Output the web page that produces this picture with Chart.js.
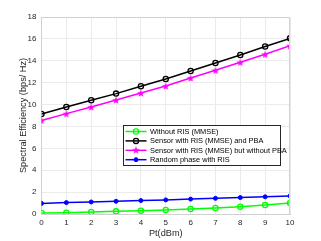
<!DOCTYPE html>
<html>
<head>
<meta charset="utf-8">
<script src="https://cdn.jsdelivr.net/npm/chart.js@4.4.1/dist/chart.umd.min.js"></script>
<style>
  html, body { margin: 0; padding: 0; background: #fff; }
  #wrap { width: 321px; height: 241px; }
</style>
</head>
<body>
<div id="wrap"><canvas id="myChart" width="321" height="241"></canvas></div>
<script>
/* data */
const ptLabels = [0, 1, 2, 3, 4, 5, 6, 7, 8, 9, 10];
const withoutRis = [0.1, 0.12, 0.18, 0.24, 0.3, 0.37, 0.46, 0.55, 0.67, 0.82, 1.0];
const sensorPba = [9.14, 9.78, 10.4, 11.0, 11.67, 12.34, 13.07, 13.8, 14.53, 15.3, 16.05];
const sensorNoPba = [8.55, 9.17, 9.78, 10.42, 11.06, 11.7, 12.43, 13.13, 13.86, 14.6, 15.38];
const randomPhase = [0.97, 1.04, 1.1, 1.16, 1.23, 1.29, 1.36, 1.43, 1.5, 1.57, 1.65];
const yTicks = [0, 2, 4, 6, 8, 10, 12, 14, 16, 18];

const seriesNames = [
  'Without RIS (MMSE)',
  'Sensor with RIS (MMSE) and PBA',
  'Sensor with RIS (MMSE) but without PBA',
  'Random phase with RIS'
];

/* filled pentagram marker like matlab */
function makeStar(size, color) {
  let c = document.createElement('canvas');
  c.width = size; c.height = size;
  let g = c.getContext('2d');
  let cx = size / 2, cy = size / 2, R = size / 2, r = R * 0.42;
  g.beginPath();
  for (let i = 0; i < 10; i++) {
    let a = -Math.PI / 2 + i * Math.PI / 5;
    let rr = i % 2 === 0 ? R : r;
    g.lineTo(cx + rr * Math.cos(a), cy + rr * Math.sin(a) + 0.5);
  }
  g.closePath();
  g.fillStyle = color;
  g.fill();
  return c;
}
const starImg = makeStar(8, '#ff00ff');

const fontFam = 'Helvetica, "Liberation Sans", Arial, sans-serif';

/* legend box inside plot */
const boxLegend = {
  id: 'boxLegend',
  afterDraw(chart) {
    const c = chart.ctx;
    const x0 = 123.5, y0 = 125.5, w = 157, h = 40;
    c.save();
    c.fillStyle = '#ffffff';
    c.fillRect(x0, y0, w, h);
    c.strokeStyle = '#262626';
    c.lineWidth = 1;
    c.strokeRect(x0, y0, w, h);
    c.font = '7.4px ' + fontFam;
    c.textBaseline = 'middle';
    const ds = chart.data.datasets;
    for (let i = 0; i < ds.length; i++) {
      const y = y0 + 6 + i * 9.4;
      c.strokeStyle = ds[i].borderColor;
      c.lineWidth = 1.5;
      c.beginPath();
      c.moveTo(x0 + 2, y);
      c.lineTo(x0 + 23, y);
      c.stroke();
      const mx = x0 + 12.5;
      if (ds[i].pointStyle === 'circle') {
        c.beginPath();
        c.arc(mx, y, ds[i].pointRadius, 0, Math.PI * 2);
        c.fillStyle = ds[i].pointBackgroundColor;
        c.fill();
        c.lineWidth = ds[i].pointBorderWidth;
        c.strokeStyle = ds[i].pointBorderColor;
        c.stroke();
      } else {
        c.drawImage(starImg, mx - 4, y - 4.5);
      }
      c.fillStyle = '#000';
      c.fillText(ds[i].label, x0 + 26.5, y + 0.5);
    }
    c.restore();
  }
};

let ctx = document.querySelector('#myChart').getContext('2d');
let myChart = new Chart(ctx, {
  type: 'line',
  data: {
    labels: ptLabels,
    datasets: [
      {
        label: seriesNames[0],
        data: withoutRis,
        borderColor: '#00ff00',
        borderWidth: 1.5,
        pointStyle: 'circle',
        pointRadius: 2.6,
        pointBorderWidth: 1.3,
        pointBorderColor: '#00ff00',
        pointBackgroundColor: 'rgba(0,0,0,0)',
        tension: 0,
      },
      {
        label: seriesNames[1],
        data: sensorPba,
        borderColor: '#000000',
        borderWidth: 1.5,
        pointStyle: 'circle',
        pointRadius: 2.6,
        pointBorderWidth: 1.3,
        pointBorderColor: '#000000',
        pointBackgroundColor: 'rgba(0,0,0,0)',
        tension: 0,
      },
      {
        label: seriesNames[2],
        data: sensorNoPba,
        borderColor: '#ff00ff',
        borderWidth: 1.5,
        pointStyle: starImg,
        pointRadius: 4,
        tension: 0,
      },
      {
        label: seriesNames[3],
        data: randomPhase,
        borderColor: '#0000ff',
        borderWidth: 1.5,
        pointStyle: 'circle',
        pointRadius: 2,
        pointBorderWidth: 1,
        pointBorderColor: '#0000ff',
        pointBackgroundColor: '#0000ff',
        tension: 0,
      },
    ]
  },
  options: {
    responsive: false,
    animation: false,
    layout: { padding: { left: 18, right: 31, top: 17, bottom: 0 } },
    plugins: {
      legend: { display: false },
      tooltip: { enabled: false },
    },
    scales: {
      x: {
        type: 'linear',
        min: 0,
        max: 10,
        afterBuildTicks: (axis) => { axis.ticks = ptLabels.map(v => ({ value: v })); },
        afterFit: (axis) => { axis.height = 27; },
        grid: { color: '#ebebeb', lineWidth: 1, drawTicks: false },
        border: { color: '#d0d0d0' },
        ticks: {
          color: '#262626',
          font: { size: 8, family: fontFam },
          padding: 4,
          maxRotation: 0,
        },
        title: {
          display: true,
          text: 'Pt(dBm)',
          color: '#262626',
          font: { size: 9.2, family: fontFam },
          padding: { top: 0, bottom: 2.5 },
        },
      },
      y: {
        min: 0,
        max: 18,
        afterBuildTicks: (axis) => { axis.ticks = yTicks.map(v => ({ value: v })); },
        afterFit: (axis) => { axis.width = 23.5; },
        grid: { color: '#ebebeb', lineWidth: 1, drawTicks: false },
        border: { color: '#d0d0d0' },
        ticks: {
          color: '#262626',
          font: { size: 8, family: fontFam },
          padding: 5,
        },
        title: {
          display: true,
          text: 'Spectral Efficiency (bps/ Hz)',
          color: '#262626',
          font: { size: 9.2, family: fontFam },
          padding: { top: 0, bottom: 0 },
        },
      },
    },
  },
  plugins: [boxLegend, {
    id: 'frame',
    afterDatasetsDraw(chart) {
      const a = chart.chartArea, c = chart.ctx;
      c.save();
      c.strokeStyle = '#d0d0d0';
      c.lineWidth = 1;
      c.beginPath();
      c.moveTo(a.left, a.top + 0.5);
      c.lineTo(a.right - 0.5, a.top + 0.5);
      c.lineTo(a.right - 0.5, a.bottom);
      c.stroke();
      c.restore();
    }
  }],
});
</script>
</body>
</html>
